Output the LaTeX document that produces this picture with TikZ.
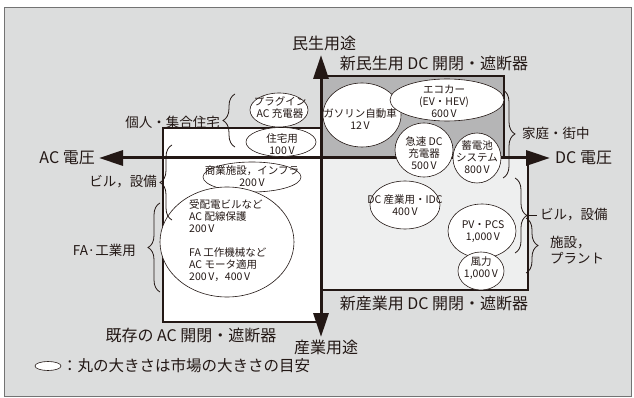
\documentclass[tikz,border=0pt]{standalone}
\usepackage{fontspec}
\setmainfont{Noto Sans CJK JP}
\usetikzlibrary{arrows.meta,shapes.geometric,decorations.pathreplacing}
\definecolor{bggray}{HTML}{DCDDDD}
\definecolor{darkbox}{HTML}{B5B5B6}
\definecolor{lightbox}{HTML}{EEEFEF}
\definecolor{ink}{HTML}{231815}
\tikzset{
  big/.style={font=\fontsize{16}{18}\selectfont, text=ink, inner sep=0pt},
  mid/.style={font=\fontsize{13.5}{15.5}\selectfont, text=ink, inner sep=0pt},
  sm/.style={font=\fontsize{10.5}{12}\selectfont, text=ink, inner sep=0pt, align=center},
  oval/.style={ellipse, draw=ink, line width=0.6pt, fill=white, inner sep=0pt},
  boxline/.style={draw=ink, line width=1.3pt},
  axisline/.style={draw=ink, line width=3pt, {Triangle[length=24pt,width=15pt]}-{Triangle[length=24pt,width=15pt]}},
  bracel/.style={draw=ink, line width=0.8pt, decorate, decoration={brace, amplitude=12pt}},
}
\begin{document}
\begin{tikzpicture}[x=1pt,y=-1pt]
\useasboundingbox (0,0) rectangle (634,398);
\fill[white] (0,0) rectangle (634,398);
\draw[draw=black!55, fill=bggray, line width=0.8pt] (4,7) rectangle (631,396);

% boxes
\draw[boxline, fill=lightbox] (321,158) rectangle (528,290);
\draw[boxline, fill=darkbox] (321,76) rectangle (504,158);
\draw[boxline, fill=white] (163,128) rectangle (321,322);

% axes
\coordinate (acTip) at (99,158);
\coordinate (dcTip) at (550,158);
\coordinate (upTip) at (321,55);
\coordinate (downTip) at (321,337);
\draw[axisline] (acTip) -- (dcTip);
\draw[axisline] (upTip) -- (downTip);

% ellipses
\node[oval, minimum width=58pt, minimum height=34pt] (plug) at (279,110) {};
\node[oval, minimum width=70pt, minimum height=29pt] (jutaku) at (281,142) {};
\node[oval, minimum width=98pt, minimum height=30pt] (shogyo) at (252,177) {};
\node[oval, minimum width=134pt, minimum height=110pt] (bigac) at (227,242) {};
\node[oval, minimum width=78pt, minimum height=64pt] (gas) at (362,115) {};
\node[oval, minimum width=114pt, minimum height=42pt] (eco) at (447,100) {};
\node[oval, minimum width=58pt, minimum height=54pt] (kyusoku) at (424,150) {};
\node[oval, minimum width=48pt, minimum height=50pt] (chiku) at (477,158) {};
\node[oval, minimum width=70pt, minimum height=48pt] (dcind) at (405,205) {};
\node[oval, minimum width=68pt, minimum height=54pt] (pv) at (482,231) {};
\node[oval, minimum width=46pt, minimum height=38pt] (wind) at (481,271) {};

% ellipse texts
\node[sm] (tplug) at (280,108) {プラグイン\\AC 充電器};
\node[sm] (tjutaku) at (282,144) {住宅用\\100\,V};
\node[sm] (tshogyo) at (252,176.5) {商業施設，インフラ\\200\,V};
\node[sm, align=left, anchor=west] (tbig) at (189,240.5) {受配電ビルなど\\AC 配線保護\\200\,V\\[12.5pt]FA 工作機械など\\AC モータ適用\\200\,V，400\,V};
\node[sm] (tgas) at (360,119.5) {ガソリン自動車\\12\,V};
\node[sm] (teco) at (444,101) {エコカー\\(EV・HEV)\\600\,V};
\node[sm] (tkyu) at (424,153) {急速 DC\\充電器\\500\,V};
\node[sm] (tchiku) at (477,157.5) {蓄電池\\システム\\800\,V};
\node[sm] (tdcind) at (405,205) {DC 産業用・IDC\\400\,V};
\node[sm] (tpv) at (483,231.5) {PV・PCS\\1,000\,V};
\node[sm] (twind) at (481,268) {風力\\1,000\,V};

% braces
\draw[bracel] (235,147) -- (235,94);
\draw[bracel] (172,220) -- (172,145);
\draw[bracel] (160,292) -- (160,203);
\draw[bracel] (503,90) -- (503,178);
\draw[bracel] (515,178) -- (515,253);
\draw[draw=ink, line width=0.8pt] (527,215.5) -- (537,215.5);
\draw[bracel] (526,218) -- (526,273);

% labels
\node[big] (minsei) at (324,43) {民生用途};
\node[big] (sangyo) at (326,347) {産業用途};
\node[big, anchor=east] (acv) at (95,158) {AC 電圧};
\node[big, anchor=west] (dcv) at (555,158) {DC 電圧};
\node[big] (newmin) at (434,63) {新民生用 DC 開閉・遮断器};
\node[big] (newsan) at (434,303) {新産業用 DC 開閉・遮断器};
\node[big] (oldac) at (191,335) {既存の AC 開閉・遮断器};
\node[mid, anchor=east] (kojin) at (220,122) {個人・集合住宅};
\node[mid, anchor=east] (birul) at (157,182) {ビル，設備};
\node[mid, anchor=east] (fa) at (136,250) {FA·工業用};
\node[mid, anchor=west] (katei) at (522,133) {家庭・街中};
\node[mid, anchor=west] (birur) at (540,215) {ビル，設備};
\node[mid, anchor=west, align=left] (shisetsu) at (550,250) {施設，\\プラント};

% legend
\node[ellipse, draw=ink, line width=0.6pt, fill=white, minimum width=26pt, minimum height=9pt, inner sep=0pt] (legov) at (48,366) {};
\node[font=\fontsize{15.5}{18}\selectfont, text=ink, inner sep=0pt, anchor=west] (legtxt) at (62,366) {：丸の大きさは市場の大きさの目安};
\end{tikzpicture}
\end{document}
